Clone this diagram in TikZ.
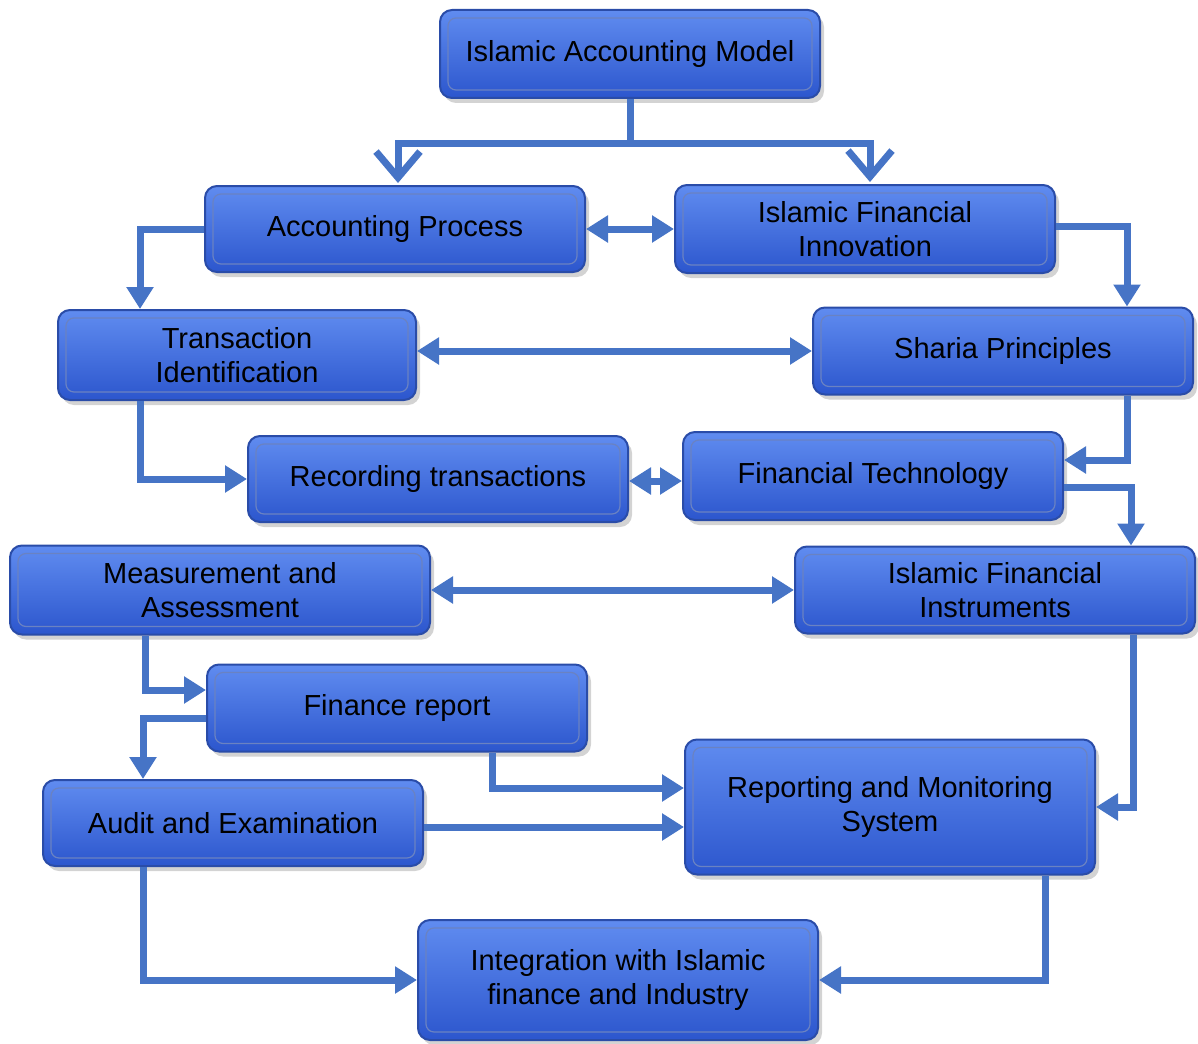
\documentclass[tikz,border=0pt]{standalone}
\usepackage{fontspec}
\setmainfont{Liberation Sans}
\usetikzlibrary{arrows.meta,shadows}
\definecolor{boxtop}{RGB}{96,140,240}
\definecolor{boxbot}{RGB}{44,86,205}
\definecolor{boxrim}{RGB}{42,76,168}
\definecolor{flowblue}{RGB}{70,116,198}
\tikzset{
    stage/.style={rounded corners=12pt, top color=boxtop, bottom color=boxbot,
        draw=boxrim, line width=2pt, align=center, inner sep=0pt,
        font=\fontsize{29}{34}\selectfont,
        drop shadow={shadow xshift=4pt, shadow yshift=-5pt, opacity=0.35},
        path picture={\draw[boxrim!70, line width=1.2pt, rounded corners=8pt]
            ([shift={(8pt,8pt)}]path picture bounding box.south west) rectangle
            ([shift={(-8pt,-8pt)}]path picture bounding box.north east);}},
    flow/.style={draw=flowblue, line width=7pt, -{Triangle[width=26pt,length=22pt]}},
    twoway/.style={draw=flowblue, line width=7pt, {Triangle[width=26pt,length=22pt]}-{Triangle[width=26pt,length=22pt]}},
    split/.style={draw=flowblue, line width=7pt, -{Straight Barb[width=44pt,length=26pt]}, shorten >=2pt}
}
\begin{document}
\begin{tikzpicture}[x=1pt,y=-1pt]
    \useasboundingbox (0,0) rectangle (1198,1043);

    % boxes
    \node[stage, minimum width=380pt, minimum height=88pt] (model) at (630,54) {Islamic Accounting Model};
    \node[stage, minimum width=380pt, minimum height=86pt] (process) at (395,229) {Accounting Process};
    \node[stage, minimum width=380pt, minimum height=88pt] (innov) at (865,229) {Islamic Financial\\Innovation};
    \node[stage, minimum width=358pt, minimum height=90pt] (ident) at (237,355) {Transaction\\Identification};
    \node[stage, minimum width=380pt, minimum height=87pt] (sharia) at (1003,351) {Sharia Principles};
    \node[stage, minimum width=380pt, minimum height=86pt] (record) at (438,479) {Recording transactions};
    \node[stage, minimum width=380pt, minimum height=88pt] (fintech) at (873,476) {Financial Technology};
    \node[stage, minimum width=420pt, minimum height=89pt] (measure) at (220,590) {Measurement and\\Assessment};
    \node[stage, minimum width=400pt, minimum height=87pt] (instr) at (995,590) {Islamic Financial\\Instruments};
    \node[stage, minimum width=380pt, minimum height=87pt] (report) at (397,708) {Finance report};
    \node[stage, minimum width=410pt, minimum height=135pt] (monitor) at (890,807) {Reporting and Monitoring\\System};
    \node[stage, minimum width=380pt, minimum height=86pt] (audit) at (233,823) {Audit and Examination};
    \node[stage, minimum width=400pt, minimum height=120pt] (integr) at (618,980) {Integration with Islamic\\finance and Industry};

    % connectors
    \draw[split] (model.south) -- ++(0,45) -| ([xshift=3pt]process.north);
    \draw[split] (model.south) -- ++(0,45) -| ([xshift=5pt]innov.north);
    \draw[twoway] (process.east) -- (process.east -| innov.west);
    \draw[flow] (process.west) -| ([xshift=-97pt]ident.north);
    \draw[flow] ([yshift=3pt]innov.east) -| ([xshift=124pt]sharia.north);
    \draw[twoway] (ident.east |- sharia.west) -- (sharia.west);
    \draw[flow] ([xshift=-97pt]ident.south) |- (record.west);
    \draw[flow] ([xshift=124pt]sharia.south) |- ([yshift=16pt]fintech.east);
    \draw[twoway] ([yshift=-2pt]record.east) -- ([yshift=-2pt]record.east -| fintech.west);
    \draw[flow] ([yshift=-11pt]fintech.east) -| ([xshift=136pt]instr.north);
    \draw[twoway] (measure.east) -- (instr.west);
    \draw[flow] ([xshift=-75pt]measure.south) |- ([yshift=18pt]report.west);
    \draw[flow] ([yshift=-10pt]report.west) -| ([xshift=-90pt]audit.north);
    \draw[flow] ([xshift=95pt]report.south) |- ([yshift=19pt]monitor.west);
    \draw[flow] ([yshift=-4pt]audit.east) -- ([yshift=-4pt]audit.east -| monitor.west);
    \draw[flow] ([xshift=138pt]instr.south) |- (monitor.east);
    \draw[flow] ([xshift=-90pt]audit.south) |- (integr.west);
    \draw[flow] ([xshift=155pt]monitor.south) |- (integr.east);

\end{tikzpicture}
\end{document}
